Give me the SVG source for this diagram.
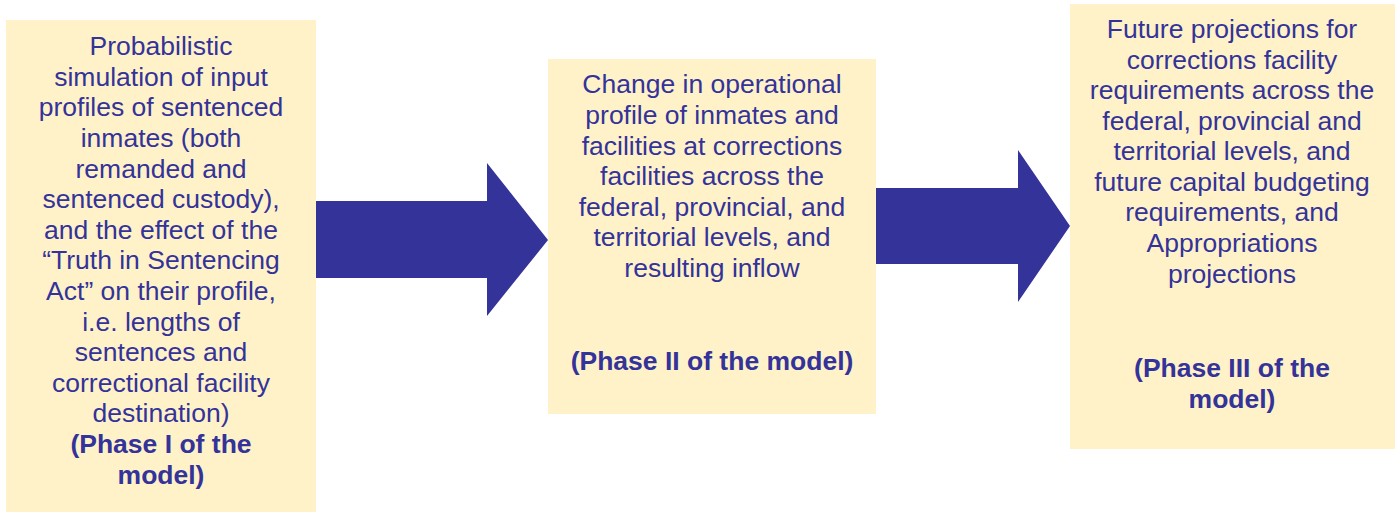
<svg xmlns="http://www.w3.org/2000/svg" width="1395" height="512" viewBox="0 0 1395 512">
<style>
.box{fill:#FFF2C9;}
.arrow{fill:#333399;}
text{font-family:"Liberation Sans",Arial,sans-serif;font-size:26.5px;fill:#333399;text-anchor:middle;}
.b{font-weight:bold;}
</style>
<rect width="1395" height="512" fill="#FFFFFF"/>
<g id="connectors">
<polygon class="arrow" points="310,201 487,201 487,163 548,240 487,316 487,278 310,278"/>
<polygon class="arrow" points="870,188 1018,188 1018,150 1070,226 1018,302 1018,264 870,264"/>
</g>
<g id="phase1">
<rect class="box" x="6" y="20" width="310" height="492"/>
<text x="161" y="55">Probabilistic</text>
<text x="161" y="86">simulation of input</text>
<text x="161" y="116">profiles of sentenced</text>
<text x="161" y="147">inmates (both</text>
<text x="161" y="178">remanded and</text>
<text x="161" y="208">sentenced custody),</text>
<text x="161" y="239">and the effect of the</text>
<text x="161" y="269">“Truth in Sentencing</text>
<text x="161" y="300">Act” on their profile,</text>
<text x="161" y="331">i.e. lengths of</text>
<text x="161" y="361">sentences and</text>
<text x="161" y="392">correctional facility</text>
<text x="161" y="422">destination)</text>
<text class="b" x="161" y="453">(Phase I of the</text>
<text class="b" x="161" y="484">model)</text>
</g>
<g id="phase2">
<rect class="box" x="548" y="59" width="328" height="355"/>
<text x="712" y="93">Change in operational</text>
<text x="712" y="124">profile of inmates and</text>
<text x="712" y="155">facilities at corrections</text>
<text x="712" y="185">facilities across the</text>
<text x="712" y="216">federal, provincial, and</text>
<text x="712" y="246">territorial levels, and</text>
<text x="712" y="277">resulting inflow</text>
<text class="b" x="712" y="370">(Phase II of the model)</text>
</g>
<g id="phase3">
<rect class="box" x="1070" y="4" width="325" height="445"/>
<text x="1232" y="38">Future projections for</text>
<text x="1232" y="69">corrections facility</text>
<text x="1232" y="99">requirements across the</text>
<text x="1232" y="130">federal, provincial and</text>
<text x="1232" y="160">territorial levels, and</text>
<text x="1232" y="191">future capital budgeting</text>
<text x="1232" y="221">requirements, and</text>
<text x="1232" y="252">Appropriations</text>
<text x="1232" y="283">projections</text>
<text class="b" x="1232" y="377">(Phase III of the</text>
<text class="b" x="1232" y="408">model)</text>
</g>
</svg>
